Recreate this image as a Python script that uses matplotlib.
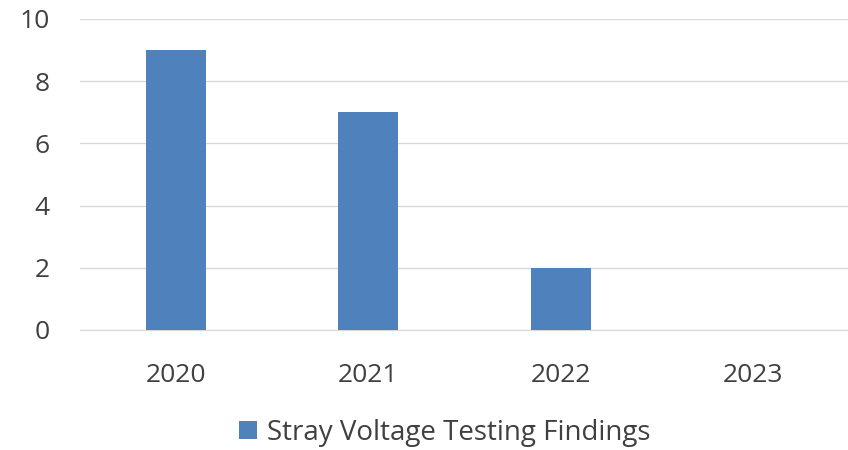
import numpy as np
import matplotlib.pyplot as plt

years = ['2020', '2021', '2022', '2023']
findings = [9, 7, 2, 0]
series_name = 'Stray Voltage Testing Findings'

plt.rcParams['font.family'] = ['Open Sans', 'DejaVu Sans']

fig = plt.figure(figsize=(8.48, 4.5), dpi=100)
ax = fig.add_axes([0.0943, 0.2667, 0.907, 0.6911])

x = np.arange(len(years))
ax.bar(x, findings, width=0.312, color='#4f81bd', label=series_name, zorder=3)

ax.set_xlim(-0.5, len(years) - 0.5)
ax.set_ylim(0, 10)
ax.set_yticks(range(0, 11, 2))
ax.set_xticks(x)
ax.set_xticklabels(years)
ax.grid(axis='y', color='#d9d9d9', linewidth=1, zorder=0)
for s in ['top', 'right', 'left']:
    ax.spines[s].set_visible(False)
ax.spines['bottom'].set_color('#d9d9d9')
ax.tick_params(axis='both', length=0, labelsize=19, colors='#404040')
ax.tick_params(axis='x', pad=24)
ax.tick_params(axis='y', pad=22)

ax.legend(loc='center', bbox_to_anchor=(0.5 - 0.0943 / 2 + 0.021, -0.33), frameon=False,
          fontsize=20, labelcolor='#404040', handlelength=0.65, handleheight=0.65,
          handletextpad=0.35)

fig.savefig('out.png', dpi=100)
